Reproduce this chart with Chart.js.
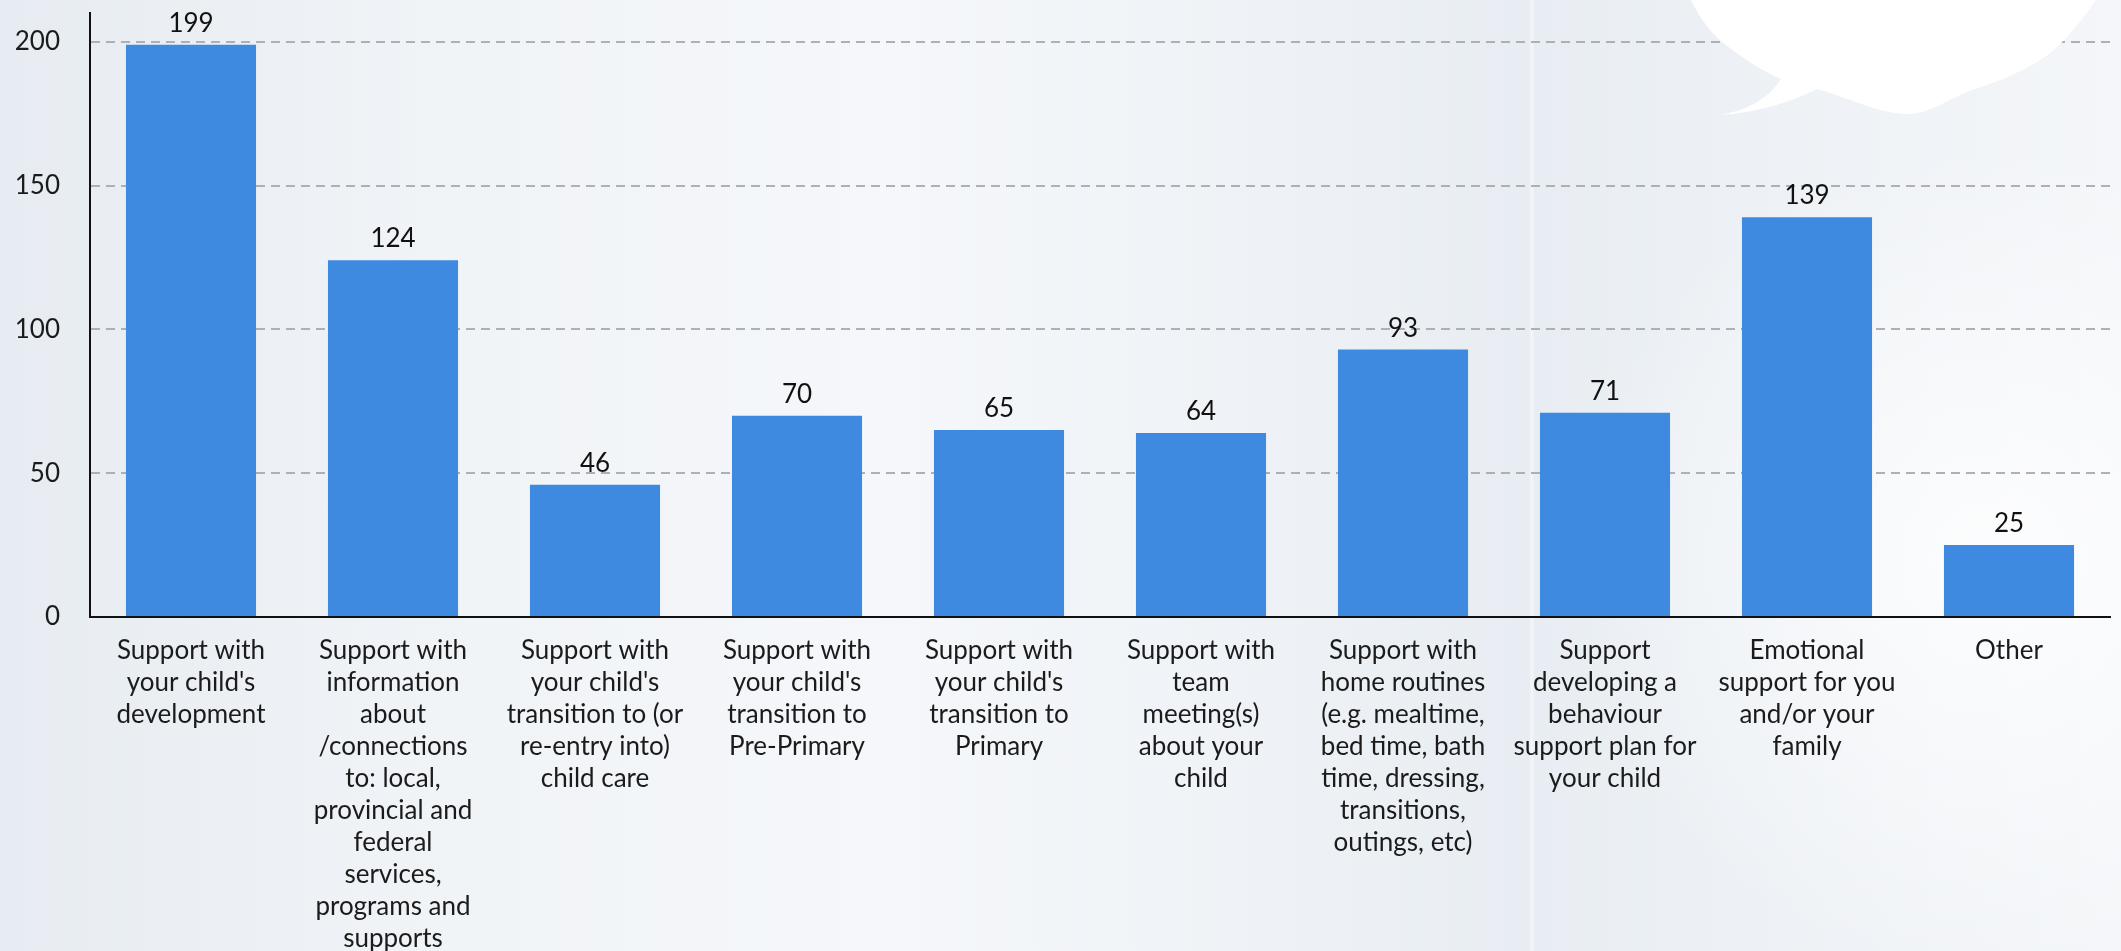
<!DOCTYPE html>
<html>
<head>
<meta charset="utf-8">
<script src="https://cdn.jsdelivr.net/npm/chart.js@4"></script>
<style>
    html, body {
        margin: 0;
        padding: 0;
        overflow: hidden;
    }
    body {
        width: 2121px;
        height: 951px;
        background:
            linear-gradient(90deg, rgba(255,255,255,0) 0%, rgba(255,255,255,0) 72.1%, rgba(255,255,255,0.5) 72.2%, rgba(255,255,255,0) 72.4%),
            radial-gradient(ellipse 420px 420px at 1990px 560px, rgba(255,255,255,0.8), rgba(255,255,255,0)),
            linear-gradient(90deg, #e7ecf2 0%, #f1f4f7 22%, #f5f7fa 42%, #eef2f6 60%, #e8edf3 72%, #edf1f5 82%, #f4f6f9 100%);
    }
    #wrap {
        position: relative;
        width: 2121px;
        height: 951px;
    }
</style>
</head>
<body>
<div id="wrap"><canvas id="root"></canvas></div>
<script>
    const categories = [
        ["Support with", "your child's", "development"],
        ["Support with", "information", "about", "/connections", "to: local,", "provincial and", "federal", "services,", "programs and", "supports"],
        ["Support with", "your child's", "transition to (or", "re-entry into)", "child care"],
        ["Support with", "your child's", "transition to", "Pre-Primary"],
        ["Support with", "your child's", "transition to", "Primary"],
        ["Support with", "team", "meeting(s)", "about your", "child"],
        ["Support with", "home routines", "(e.g. mealtime,", "bed time, bath", "time, dressing,", "transitions,", "outings, etc)"],
        ["Support", "developing a", "behaviour", "support plan for", "your child"],
        ["Emotional", "support for you", "and/or your", "family"],
        ["Other"]
    ]
    const counts = [199, 124, 46, 70, 65, 64, 93, 71, 139, 25]
    const yTicks = [0, 50, 100, 150, 200]

    Chart.defaults.font.family = 'Lato'
    Chart.defaults.color = '#1b1b1b'

    // white speech bubble in the top right corner, sits over the grid lines
    const bubble = {
        id: 'bubble',
        beforeDatasetsDraw(chart) {
            const c = chart.ctx
            c.save()
            c.fillStyle = '#ffffff'
            c.beginPath()
            c.moveTo(1690, -2)
            c.bezierCurveTo(1700, 20, 1715, 38, 1730, 48)
            c.bezierCurveTo(1748, 62, 1765, 72, 1781, 79)
            c.bezierCurveTo(1768, 100, 1745, 111, 1719, 115)
            c.bezierCurveTo(1755, 113, 1790, 103, 1817, 89)
            c.bezierCurveTo(1850, 98, 1880, 114, 1907, 114)
            c.bezierCurveTo(1930, 114, 1950, 98, 1972, 90)
            c.bezierCurveTo(2010, 78, 2045, 62, 2064, 40)
            c.bezierCurveTo(2078, 25, 2088, 12, 2097, -2)
            c.closePath()
            c.fill()
            c.restore()
        }
    }

    // value printed above each bar
    const barValues = {
        id: 'barValues',
        afterDatasetsDraw(chart) {
            const c = chart.ctx
            const meta = chart.getDatasetMeta(0)
            c.save()
            c.font = '26px Lato'
            c.fillStyle = '#111111'
            c.textAlign = 'center'
            c.textBaseline = 'alphabetic'
            meta.data.forEach((bar, i) => {
                c.fillText(String(counts[i]), bar.x, bar.y - 13)
            })
            c.restore()
        }
    }

    let ctx = document.getElementById('root').getContext('2d')

    let config = {
        type: 'bar',
        data: {
            labels: categories,
            datasets: [
                {
                    label: 'Responses',
                    data: counts,
                    backgroundColor: '#3e8ae0',
                    borderWidth: 0,
                    categoryPercentage: 1,
                    barPercentage: 0.644
                }
            ]
        },
        options: {
            responsive: true,
            maintainAspectRatio: false,
            animation: false,
            layout: {
                padding: { top: 13, right: 11, left: 0, bottom: 0 }
            },
            plugins: {
                legend: { display: false },
                tooltip: { enabled: false }
            },
            scales: {
                x: {
                    grid: { display: false, drawTicks: false },
                    border: { display: true, color: '#111111', width: 2 },
                    ticks: {
                        autoSkip: false,
                        maxRotation: 0,
                        minRotation: 0,
                        padding: 18,
                        color: '#1b1b1b',
                        font: { size: 26, lineHeight: 1.23 }
                    },
                    afterFit(scale) {
                        scale.height = 334
                    }
                },
                y: {
                    min: 0,
                    max: 210,
                    grid: {
                        color: '#adb0b5',
                        lineWidth: 2,
                        drawTicks: false
                    },
                    border: { display: true, color: '#111111', width: 2, dash: [9, 6] },
                    ticks: {
                        stepSize: 50,
                        padding: 30,
                        color: '#1b1b1b',
                        font: { size: 26 }
                    },
                    afterBuildTicks(scale) {
                        scale.ticks = yTicks.map(v => ({ value: v }))
                    },
                    afterFit(scale) {
                        scale.width = 90
                        scale.paddingTop = 0
                        scale.paddingBottom = 0
                    }
                }
            }
        },
        plugins: [bubble, barValues]
    }

    let myChart = new Chart(ctx, config)
</script>
</body>
</html>
